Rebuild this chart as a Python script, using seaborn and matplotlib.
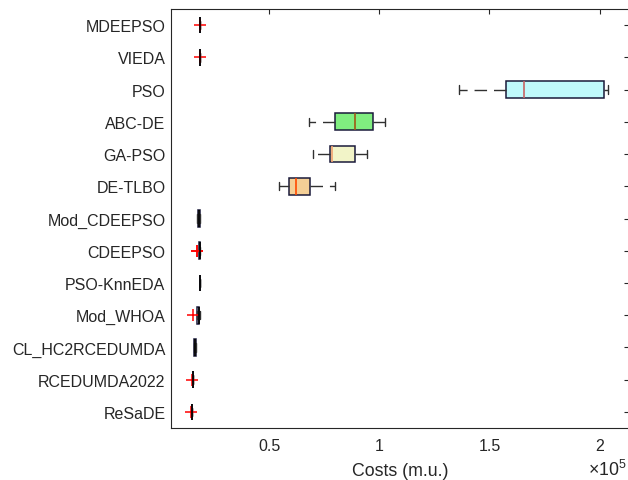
import numpy as np
import pandas as pd
import seaborn as sns
import matplotlib.pyplot as plt
from matplotlib.ticker import FuncFormatter

algorithms = ['MDEEPSO', 'VIEDA', 'PSO', 'ABC-DE', 'GA-PSO', 'DE-TLBO', 'Mod_CDEEPSO',
              'CDEEPSO', 'PSO-KnnEDA', 'Mod_WHOA', 'CL_HC2RCEDUMDA', 'RCEDUMDA2022', 'ReSaDE']

# costs per run
mdeepso = [18300, 18560, 18580, 18600, 18610, 18620, 18640, 18660, 18700]
vieda = [18250, 18550, 18580, 18600, 18610, 18620, 18640, 18660, 18680]
pso = [136200, 150000, 157500, 161000, 165500, 180000, 202100, 203000, 203800]
abc_de = [68000, 74000, 80000, 85000, 88800, 93000, 97100, 100000, 102600]
ga_pso = [69600, 73000, 77600, 78100, 78600, 84000, 89100, 92000, 94500]
de_tlbo = [54400, 56500, 59000, 60500, 62300, 65000, 68500, 74000, 80000]
mod_cdeepso = [17200, 17300, 17450, 17900, 18200, 18400, 18550, 18600, 18650]
cdeepso = [16900, 17100, 18200, 18250, 18280, 18300, 18330, 18360, 18400]
pso_knneda = [18350, 18400, 18430, 18460, 18480, 18500, 18520, 18550, 18600]
mod_whoa = [15500, 17000, 17300, 17600, 17800, 18000, 18200, 18400, 18500]
cl_hc2rcedumda = [15600, 15750, 15850, 16000, 16100, 16300, 16500, 16700, 16800]
rcedumda2022 = [14900, 15150, 15180, 15200, 15210, 15220, 15240, 15260, 15300]
resade = [14500, 14850, 14880, 14900, 14910, 14920, 14940, 14960, 14990]

series = [mdeepso, vieda, pso, abc_de, ga_pso, de_tlbo, mod_cdeepso,
          cdeepso, pso_knneda, mod_whoa, cl_hc2rcedumda, rcedumda2022, resade]

fills = ['white', 'white', '#bff9fc', '#80ee80', '#f2f4c8', '#f4cf96', 'white',
         'white', 'white', 'white', 'white', 'white', 'white']
medians = ['k', 'k', '#c86464', '#a05a14', '#f0a070', '#ff4a00', 'k',
           'k', 'k', 'k', 'k', 'k', 'k']

sns.set_style('white')
plt.rcParams['font.family'] = ['Liberation Sans', 'DejaVu Sans']
plt.rcParams['mathtext.fontset'] = 'custom'
plt.rcParams['mathtext.rm'] = 'Liberation Sans'

fig = plt.figure(figsize=(6.28, 4.81), dpi=100)
ax = fig.add_axes([171 / 628, 52 / 481, 458 / 628, 419 / 481])

grey = '#262626'
for name, vals, fill, med in zip(algorithms, series, fills, medians):
    sns.boxplot(x=vals, y=[name] * len(vals), order=algorithms, ax=ax,
                color=fill, saturation=1, width=0.52, linewidth=1.1,
                linecolor='#1a1a3a', whis=1.5,
                medianprops=dict(color=med, linewidth=1.2),
                whiskerprops=dict(color='#303030', linestyle=(0, (9, 5)), linewidth=1),
                capprops=dict(color='#303030', linewidth=1),
                flierprops=dict(marker='+', color='red', markeredgecolor='red',
                                markersize=8, markeredgewidth=1.1))

ax.set_xlim(5300, 213400)
ax.set_ylim(12.5, -0.5)
ax.set_xticks([50000, 100000, 150000, 200000])
ax.xaxis.set_major_formatter(FuncFormatter(lambda v, p: '%g' % (v / 1e5)))
ax.tick_params(direction='in', top=True, right=True, length=3.6, width=0.8,
               labelsize=11.5, colors=grey)
ax.tick_params(axis='x', pad=7)
ax.tick_params(axis='y', pad=4)
for s in ax.spines.values():
    s.set_color(grey)
    s.set_linewidth(0.8)
ax.set_ylabel('')
ax.set_xlabel('Costs (m.u.)', fontsize=12.8, color=grey, labelpad=7)
fig.text(627 / 628, 1 / 481, r'$\times\mathregular{10^{5}}$', ha='right', va='bottom',
         fontsize=12.8, color=grey)

fig.savefig('out.png', dpi=100)
